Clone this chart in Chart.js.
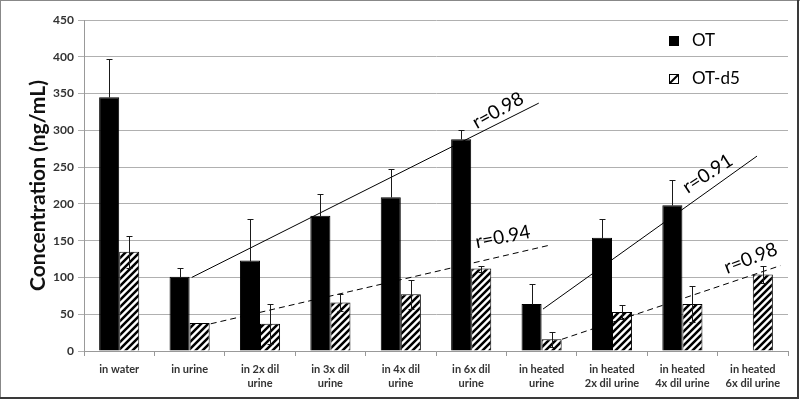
<!DOCTYPE html>
<html>
<head>
<meta charset="utf-8">
<script src="https://cdn.jsdelivr.net/npm/chart.js@4.4.1/dist/chart.umd.min.js"></script>
<style>
html,body{margin:0;padding:0;background:#fff;}
#wrap{width:800px;height:401px;position:relative;}
</style>
</head>
<body>
<div id="wrap"><canvas id="c" width="800" height="401"></canvas></div>
<script>
const categories = [
  ["in water"], ["in urine"], ["in 2x dil", "urine"], ["in 3x dil", "urine"],
  ["in 4x dil", "urine"], ["in 6x dil", "urine"], ["in heated", "urine"],
  ["in heated", "2x dil urine"], ["in heated", "4x dil urine"], ["in heated", "6x dil urine"]
];
const otValues   = [345, 101, 123, 184, 209, 288, 64, 154, 198, null];
const otErrors   = [52, 12, 56, 29, 38, 12, 27, 26, 35, null];
const d5Values   = [135, 38, 37, 66, 77, 112, 16, 53, 64, 104];
const d5Errors   = [22, 0, 27, 12, 20, 4, 10, 9, 25, 11];
const trendOT1   = [{x: 1.03, y: 100}, {x: 5.96, y: 337}];
const trendD51   = [{x: 1.30, y: 37}, {x: 6.12, y: 144}];
const trendOT2   = [{x: 6.02, y: 57}, {x: 9.06, y: 265}];
const trendD52   = [{x: 6.29, y: 16}, {x: 9.39, y: 116}];
const rLabels    = ["r=0.98", "r=0.94", "r=0.91", "r=0.98"];
const yTicks     = [0, 50, 100, 150, 200, 250, 300, 350, 400, 450];
const seriesNames = ["OT", "OT-d5"];

// annotation placement (data coords + angle)
const rPlacement = [
  {x: 5.38, y: 327, a: -29},
  {x: 5.45, y: 155, a: -11},
  {x: 8.36, y: 241, a: -33},
  {x: 8.97, y: 126, a: -21}
];

function makeHatch() {
  const s = 7;
  const p = document.createElement('canvas');
  p.width = s; p.height = s;
  const g = p.getContext('2d');
  g.fillStyle = '#fff';
  g.fillRect(0, 0, s, s);
  g.strokeStyle = '#000';
  g.lineWidth = 2.5;
  g.beginPath();
  g.moveTo(-1, s + 1); g.lineTo(s + 1, -1);
  g.moveTo(-1, 1); g.lineTo(1, -1);
  g.moveTo(s - 1, s + 1); g.lineTo(s + 1, s - 1);
  g.stroke();
  return document.getElementById('c').getContext('2d').createPattern(p, 'repeat');
}
const hatch = makeHatch();

const errorBars = {
  id: 'errorBars',
  afterDatasetsDraw(chart) {
    const ctx = chart.ctx;
    const y = chart.scales.y;
    const errs = [otErrors, d5Errors];
    const vals = [otValues, d5Values];
    ctx.save();
    ctx.strokeStyle = '#1a1a1a';
    ctx.lineWidth = 1;
    [0, 1].forEach(di => {
      const meta = chart.getDatasetMeta(di);
      meta.data.forEach((bar, i) => {
        const v = vals[di][i], e = errs[di][i];
        if (v == null || !e) return;
        const x = Math.round(bar.x) + 0.5;
        const yt = Math.round(y.getPixelForValue(v + e)) + 0.5;
        // lower whisker is black-on-black inside solid bars, so only draw it on hatched bars
        const yb = di === 0 ? Math.round(y.getPixelForValue(v)) + 0.5 : Math.round(y.getPixelForValue(v - e)) + 0.5;
        ctx.beginPath();
        ctx.moveTo(x, yt); ctx.lineTo(x, yb);
        ctx.moveTo(x - 3, yt); ctx.lineTo(x + 3, yt);
        if (di === 1) { ctx.moveTo(x - 3, yb); ctx.lineTo(x + 3, yb); }
        ctx.stroke();
      });
    });
    ctx.restore();
  },
  afterDraw(chart) {
    const ctx = chart.ctx;
    const xs = chart.scales.x, y = chart.scales.y;
    ctx.save();
    ctx.fillStyle = '#000';
    ctx.font = '19px Lato, "Open Sans", sans-serif';
    ctx.textAlign = 'center';
    ctx.textBaseline = 'middle';
    rLabels.forEach((t, i) => {
      const p = rPlacement[i];
      ctx.save();
      ctx.translate(xs.getPixelForValue(p.x), y.getPixelForValue(p.y));
      ctx.rotate(p.a * Math.PI / 180);
      ctx.fillText(t, 0, 0);
      ctx.restore();
    });
    // legend
    ctx.textAlign = 'left';
    ctx.font = '17px Lato, "Open Sans", sans-serif';
    ctx.fillStyle = '#000';
    ctx.fillRect(669, 36, 10, 10);
    ctx.fillText(seriesNames[0], 692, 41);
    ctx.fillStyle = '#fff';
    ctx.fillRect(669, 74, 10, 10);
    ctx.strokeStyle = '#000';
    ctx.lineWidth = 1;
    ctx.strokeRect(669.5, 74.5, 9, 9);
    ctx.lineWidth = 2;
    ctx.beginPath(); ctx.moveTo(670, 83); ctx.lineTo(678, 75); ctx.stroke();
    ctx.fillStyle = '#000';
    ctx.fillText(seriesNames[1], 692, 79);
    // frame
    ctx.fillStyle = '#888';
    ctx.fillRect(0, 0, 800, 1);
    ctx.fillRect(0, 0, 1, 399);
    ctx.fillStyle = '#3a3a3a';
    ctx.fillRect(797, 0, 2, 399);
    ctx.fillRect(0, 397, 799, 2);
    ctx.restore();
  }
};

const trendStyle = (data, dashed) => ({
  type: 'line', data, parsing: false, normalized: true,
  borderColor: '#000', borderWidth: 1, borderDash: dashed ? [6, 4] : [],
  pointRadius: 0, fill: false, tension: 0, order: 0
});

new Chart(document.getElementById('c'), {
  type: 'bar',
  data: {
    labels: categories,
    datasets: [
      {label: seriesNames[0], data: otValues, backgroundColor: '#000', borderColor: '#000', borderWidth: 1,
       categoryPercentage: 0.57, barPercentage: 1, order: 1},
      {label: seriesNames[1], data: d5Values, backgroundColor: hatch, borderColor: '#000', borderWidth: 1,
       categoryPercentage: 0.57, barPercentage: 1, order: 1},
      trendStyle(trendOT1, false),
      trendStyle(trendD51, true),
      trendStyle(trendOT2, false),
      trendStyle(trendD52, true)
    ]
  },
  options: {
    responsive: false,
    animation: false,
    layout: {padding: {top: 20, right: 12, left: 0, bottom: 0}},
    plugins: {legend: {display: false}, tooltip: {enabled: false}},
    scales: {
      x: {
        type: 'category',
        offset: true,
        grid: {display: true, drawOnChartArea: false, drawTicks: true, tickLength: 5, offset: true, color: '#999'},
        border: {display: true, color: '#999'},
        ticks: {color: '#333', font: {family: 'Lato, "Open Sans", sans-serif', size: 11, weight: 'bold', lineHeight: 1.3}, padding: 6, maxRotation: 0, autoSkip: false},
        afterFit(s) { s.height = 50; }
      },
      y: {
        min: 0, max: 450,
        afterBuildTicks(s) { s.ticks = yTicks.map(v => ({value: v})); },
        grid: {color: '#b0b0b0', tickLength: 6, drawTicks: true},
        border: {display: true, color: '#999'},
        ticks: {color: '#333', font: {family: 'Lato, "Open Sans", sans-serif', size: 12, weight: 'bold'}, padding: 4},
        title: {display: true, text: 'Concentration (ng/mL)', color: '#111',
                font: {family: 'Lato, "Open Sans", sans-serif', size: 21, weight: 'bold'}, padding: {top: 26, bottom: 0}},
        afterFit(s) { s.width = 84; }
      }
    }
  },
  plugins: [errorBars]
});
</script>
</body>
</html>
